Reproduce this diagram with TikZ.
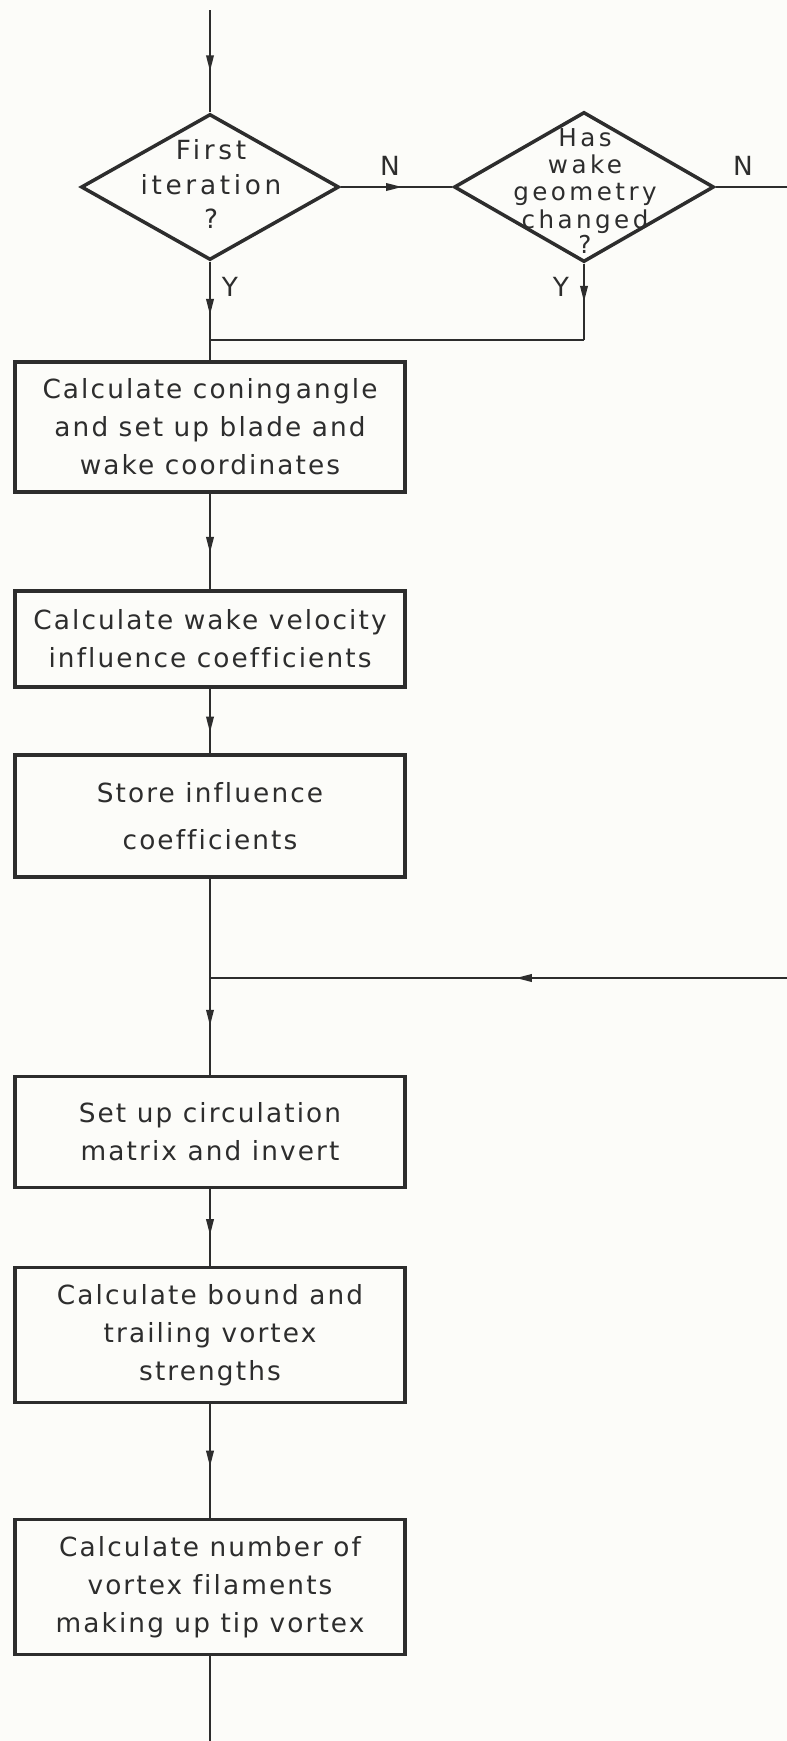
\documentclass[tikz,border=0pt]{standalone}
\usepackage{fontspec}
\setmainfont{DejaVu Sans}[LetterSpace=8, Ligatures=NoCommon]
\newfontfamily\qfont{DejaVu Sans}[LetterSpace=14, Ligatures=NoCommon]
\usetikzlibrary{positioning,shapes.geometric,arrows.meta,decorations.markings}
\definecolor{ink}{RGB}{45,45,45}
\definecolor{paper}{RGB}{252,252,249}

\begin{document}
\begin{tikzpicture}[
  x=0.02cm, y=-0.02cm,
  >={Triangle[length=3.2mm,width=1.5mm]},
  box/.style={
    draw=ink, line width=2pt,
    minimum width=7.8cm,
    inner sep=0pt,
    font=\fontsize{15}{21.6}\selectfont, text=ink, align=center
  },
  decision/.style={
    diamond, draw=ink, line width=2pt, inner sep=0pt,
    minimum width=5.16cm, minimum height=2.92cm
  },
  qtext/.style={font=\qfont\fontsize{15}{19.5}\selectfont, text=ink, align=center, inner sep=0pt},
  lbl/.style={font=\fontsize{15}{16}\selectfont, text=ink, inner sep=0pt},
  conn/.style={ink, line width=1.1pt},
  midarrow/.style={postaction={decorate},
    decoration={markings, mark=at position #1 with {\arrow{>}}}}
]
\path[use as bounding box, fill=paper] (0,0) rectangle (787,1741);

% --- Decisions ---
\node[decision] (first) at (210,187) {};
\node[qtext] (firsttxt) at (211,184) {First\\iteration\\?};

\node[decision, minimum width=5.2cm, minimum height=3cm] (wake) at (584,187) {};
\node[qtext, font=\qfont\fontsize{14}{15.6}\selectfont] (waketxt) at (585,191)
  {Has\\wake\\geometry\\changed\\[-1pt]?};

\node[lbl] (nfirst) at (390,166) {N};
\node[lbl] (nwake) at (743,166) {N};
\node[lbl] (yfirst) at (230,287) {Y};
\node[lbl] (ywake) at (561,287) {Y};

% --- Process boxes ---
\node[box, minimum height=2.6cm] (coning) at (210,427)
  {Calculate coning\,angle\\and set up blade and\\wake coordinates};
\node[box, minimum height=1.92cm] (velocity) at (210,639)
  {Calculate wake velocity\\influence coefficients};
\node[box, minimum height=2.44cm] (store) at (210,816)
  {Store influence\\[0.18cm]coefficients};
\node[box, minimum height=2.22cm] (circ) at (210,1132)
  {Set up circulation\\matrix and invert};
\node[box, minimum height=2.7cm] (bound) at (210,1335)
  {Calculate bound and\\trailing vortex\\strengths};
\node[box, minimum height=2.7cm] (filaments) at (210,1587)
  {Calculate number of\\vortex filaments\\making up tip vortex};

% --- Connectors ---
\coordinate (entry) at (210,10);
\coordinate (join1) at (210,340);
\coordinate (wakejoin) at (wake.south |- join1);
\coordinate (wakeout) at (787,187);
\coordinate (loopin) at (787,978);
\coordinate (join2) at (210,978);
\coordinate (exit) at (210,1741);

\draw[conn, midarrow=0.6] (entry) -- (first.north);
\draw[conn, midarrow=0.55] (first.east) -- (wake.west);
\draw[conn] (wake.east) -- (wakeout);
\draw[conn, midarrow=0.54] (first.south) -- (coning.north);
\draw[conn, midarrow=0.5] (wake.south) -- (wakejoin);
\draw[conn] (wakejoin) -- (join1);
\draw[conn, midarrow=0.62] (coning.south) -- (velocity.north);
\draw[conn, midarrow=0.68] (velocity.south) -- (store.north);
\draw[conn, midarrow=0.75] (store.south) -- (circ.north);
\draw[conn, midarrow=0.47] (loopin) -- (join2);
\draw[conn, midarrow=0.6] (circ.south) -- (bound.north);
\draw[conn, midarrow=0.55] (bound.south) -- (filaments.north);
\draw[conn] (filaments.south) -- (exit);

\end{tikzpicture}
\end{document}
